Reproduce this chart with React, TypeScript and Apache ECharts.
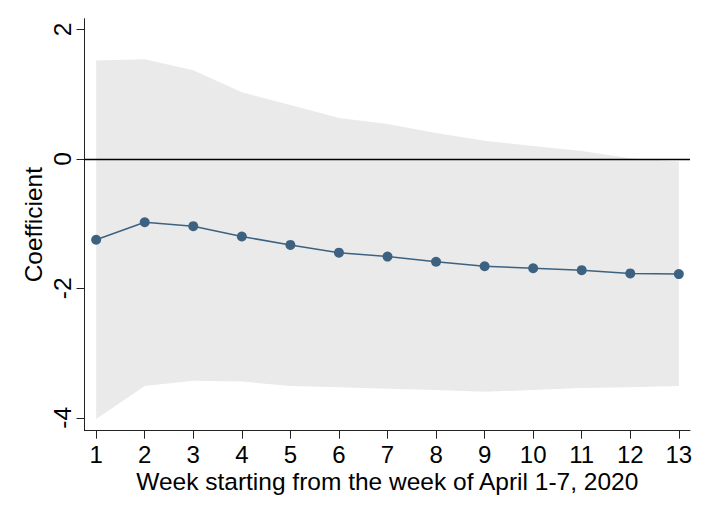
import React, { useEffect, useRef } from "react";
import * as echarts from "echarts";

const weeks = [1, 2, 3, 4, 5, 6, 7, 8, 9, 10, 11, 12, 13];
const coef = [-1.25, -0.98, -1.04, -1.2, -1.33, -1.45, -1.51, -1.59, -1.66, -1.69, -1.72, -1.77, -1.78];
const upper = [1.52, 1.54, 1.37, 1.03, 0.83, 0.63, 0.54, 0.4, 0.28, 0.2, 0.12, 0.01, -0.04];
const lower = [-4.02, -3.51, -3.43, -3.44, -3.51, -3.53, -3.55, -3.57, -3.6, -3.57, -3.54, -3.53, -3.51];
const xTicks = weeks;
const yTicks = [-4, -2, 0, 2];
const xTitle = "Week starting from the week of April 1-7, 2020";
const yTitle = "Coefficient";

const FONT = "'Liberation Sans', Arial, sans-serif";
const FS = 24.5;
const FSX = 24;
const LH = 18;

export default function App() {
  const ref = useRef<HTMLDivElement>(null);
  useEffect(() => {
    if (!ref.current) return;
    const chart = echarts.init(ref.current, null, { renderer: "svg" });
    const axisCommon = {
      axisLine: { show: true, onZero: false, lineStyle: { color: "#222", width: 1 } },
      axisTick: { show: true, length: 8, lineStyle: { color: "#222", width: 1 } },
      splitLine: { show: false },
    };
    chart.setOption({
      animation: false,
      backgroundColor: "#fff",
      textStyle: { fontFamily: FONT },
      grid: { left: 84.5, right: 19, top: 18.7, bottom: 85.3, containLabel: false },
      xAxis: {
        type: "value",
        min: 0.76,
        max: 13.23,
        ...axisCommon,
        axisTick: { ...axisCommon.axisTick, customValues: xTicks },
        axisLabel: { customValues: xTicks, fontSize: FSX, lineHeight: LH, color: "#000", fontFamily: FONT, margin: 14.5 },
        name: xTitle,
        nameLocation: "middle",
        nameGap: 41.5,
        nameMoveOverlap: false,
        nameTextStyle: { fontSize: FS, lineHeight: LH, color: "#000", fontFamily: FONT },
      },
      yAxis: {
        type: "value",
        min: -4.2,
        max: 2.165,
        ...axisCommon,
        axisTick: { ...axisCommon.axisTick, customValues: yTicks },
        axisLabel: { customValues: yTicks, fontSize: FS, color: "#000", fontFamily: FONT, margin: 10, rotate: 90 },
        name: yTitle,
        nameLocation: "middle",
        nameGap: 39,
        nameRotate: 90,
        nameMoveOverlap: false,
        nameTextStyle: { fontSize: FS, color: "#000", fontFamily: FONT },
      },
      series: [
        {
          type: "custom",
          z: 1,
          clip: true,
          silent: true,
          data: weeks.map((w, i) => [w, upper[i], lower[i]]),
          encode: { x: 0, y: [1, 2] },
          renderItem: (params: any, api: any) => {
            if (params.dataIndex !== 0) return null;
            const pts: number[][] = [];
            weeks.forEach((w, i) => pts.push(api.coord([w, upper[i]])));
            for (let i = weeks.length - 1; i >= 0; i--) pts.push(api.coord([weeks[i], lower[i]]));
            return { type: "polygon", shape: { points: pts }, style: { fill: "#EAEAEA" } };
          },
        },
        {
          type: "line",
          z: 3,
          data: weeks.map((w, i) => [w, coef[i]]),
          symbol: "circle",
          symbolSize: 10,
          lineStyle: { color: "#3D6281", width: 1.5 },
          itemStyle: { color: "#3D6281" },
          markLine: {
            silent: true,
            symbol: ["none", "none"],
            label: { show: false },
            lineStyle: { color: "#000", width: 1.4, type: "solid" },
            data: [{ yAxis: 0 }],
          },
        },
      ],
    });
    return () => chart.dispose();
  }, []);
  return (
    <div
      ref={ref}
      style={{ position: "fixed", left: 0, top: 0, width: 709, height: 516, background: "#fff" }}
    />
  );
}
